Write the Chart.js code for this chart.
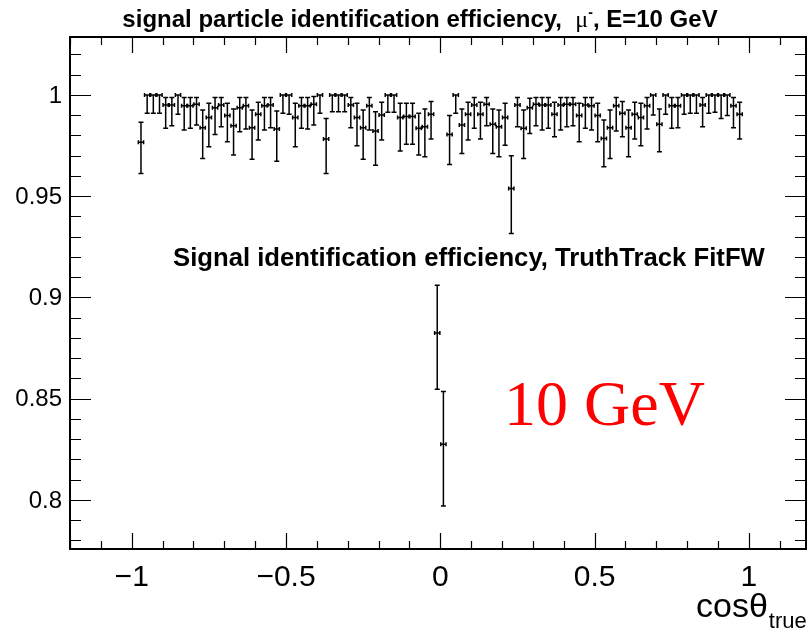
<!DOCTYPE html>
<html>
<head>
<meta charset="utf-8">
<script src="https://cdn.jsdelivr.net/npm/chart.js@4"></script>
<style>
  html, body { margin: 0; padding: 0; background: #fff; }
  #wrap { width: 809px; height: 631px; }
</style>
</head>
<body>
<div id="wrap"><canvas id="chartEff" width="809" height="631"></canvas></div>
<script>
// ── Data ──────────────────────────────────────────────────
const binX = [
  -0.97, -0.95, -0.93, -0.91, -0.89, -0.87, -0.85, -0.83, -0.81, -0.79,
  -0.77, -0.75, -0.73, -0.71, -0.69, -0.67, -0.65, -0.63, -0.61, -0.59,
  -0.57, -0.55, -0.53, -0.51, -0.49, -0.47, -0.45, -0.43, -0.41, -0.39,
  -0.37, -0.35, -0.33, -0.31, -0.29, -0.27, -0.25, -0.23, -0.21, -0.19,
  -0.17, -0.15, -0.13, -0.11, -0.09, -0.07, -0.05, -0.03, -0.01, 0.01,
  0.03, 0.05, 0.07, 0.09, 0.11, 0.13, 0.15, 0.17, 0.19, 0.21,
  0.23, 0.25, 0.27, 0.29, 0.31, 0.33, 0.35, 0.37, 0.39, 0.41,
  0.43, 0.45, 0.47, 0.49, 0.51, 0.53, 0.55, 0.57, 0.59, 0.61,
  0.63, 0.65, 0.67, 0.69, 0.71, 0.73, 0.75, 0.77, 0.79, 0.81,
  0.83, 0.85, 0.87, 0.89, 0.91, 0.93, 0.95, 0.97
];
const eff = [
  0.9766, 1, 1, 1, 0.9950, 0.9950, 1, 0.9947, 0.9947, 0.9954,
  0.9838, 0.9888, 0.9937, 0.9950, 0.9898, 0.9848, 0.9937, 0.9947, 0.9838, 0.9904,
  0.9947, 0.9950, 0.9832, 1, 1, 0.9888, 0.9947, 0.9947, 0.9954, 1,
  0.9782, 1, 1, 1, 0.9950, 0.9889, 0.9838, 0.9947, 0.9822, 0.9901,
  1, 1, 0.9888, 0.9893, 0.9893, 0.9835, 0.9843, 0.9904, 0.8825, 0.8275,
  0.9805, 1, 0.9851, 0.9904, 0.9950, 0.9904, 0.9954, 0.9855, 0.9843, 0.9889,
  0.9538, 0.9950, 0.9835, 0.9937, 0.9954, 0.9950, 0.9950, 0.9904, 0.9950, 0.9954,
  0.9954, 0.9898, 0.9950, 0.9947, 0.9898, 0.9785, 0.9838, 0.9947, 0.9909, 0.9838,
  0.9904, 0.9889, 0.9947, 1, 0.9855, 1, 0.9947, 0.9947, 1, 1,
  1, 0.9950, 1, 1, 1, 1, 0.9947, 0.9904
];
const errLow = [
  0.0154, 0.0091, 0.0091, 0.0091, 0.0115, 0.0102, 0.0096, 0.0120, 0.0112, 0.0103,
  0.0152, 0.0144, 0.0132, 0.0107, 0.0129, 0.0145, 0.0119, 0.0115, 0.0155, 0.0127,
  0.0120, 0.0112, 0.0159, 0.0091, 0.0096, 0.0144, 0.0112, 0.0115, 0.0103, 0.0091,
  0.0170, 0.0083, 0.0083, 0.0083, 0.0112, 0.0140, 0.0155, 0.0120, 0.0169, 0.0124,
  0.0086, 0.0086, 0.0165, 0.0137, 0.0137, 0.0132, 0.0148, 0.0122, 0.0278, 0.0305,
  0.0148, 0.0091, 0.0140, 0.0127, 0.0115, 0.0122, 0.0106, 0.0144, 0.0148, 0.0137,
  0.0222, 0.0107, 0.0149, 0.0127, 0.0106, 0.0123, 0.0115, 0.0110, 0.0123, 0.0111,
  0.0106, 0.0129, 0.0115, 0.0120, 0.0129, 0.0140, 0.0152, 0.0125, 0.0115, 0.0143,
  0.0122, 0.0140, 0.0115, 0.0099, 0.0136, 0.0096, 0.0112, 0.0109, 0.0096, 0.0091,
  0.0091, 0.0107, 0.0091, 0.0086, 0.0116, 0.0102, 0.0109, 0.0122
];
const errHigh = [
  0.0099, 0, 0, 0, 0.0037, 0.0037, 0, 0.0040, 0.0040, 0.0033,
  0.0088, 0.0071, 0.0050, 0.0037, 0.0061, 0.0083, 0.0050, 0.0040, 0.0088, 0.0060,
  0.0040, 0.0037, 0.0089, 0, 0, 0.0071, 0.0040, 0.0040, 0.0038, 0,
  0.0102, 0, 0, 0, 0.0037, 0.0070, 0.0088, 0.0040, 0.0095, 0.0063,
  0, 0, 0.0071, 0.0066, 0.0066, 0.0074, 0.0088, 0.0063, 0.0235, 0.0261,
  0.0093, 0, 0.0080, 0.0060, 0.0037, 0.0060, 0.0033, 0.0076, 0.0083, 0.0070,
  0.0162, 0.0037, 0.0091, 0.0047, 0.0033, 0.0037, 0.0037, 0.0060, 0.0037, 0.0033,
  0.0033, 0.0061, 0.0037, 0.0040, 0.0061, 0.0091, 0.0088, 0.0040, 0.0058, 0.0088,
  0.0060, 0.0070, 0.0040, 0, 0.0076, 0, 0.0040, 0.0040, 0, 0,
  0, 0.0037, 0, 0, 0, 0, 0.0040, 0.0060
];
const binHalf = 0.0085;

const xTicks = [-1, -0.5, 0, 0.5, 1];
const xTickLabels = ['\u22121', '\u22120.5', '0', '0.5', '1'];
const yTicks = [0.8, 0.85, 0.9, 0.95, 1];
const yTickLabels = ['0.8', '0.85', '0.9', '0.95', '1'];

const titleText = 'signal particle identification efficiency,  ';
const titleTail = ', E=10 GeV';
const insideText = 'Signal identification efficiency, TruthTrack FitFW';
const energyText = '10 GeV';

// ── ROOT-ish frame, ticks, labels and error bars ──────────
const rootStyle = {
    id: 'rootStyle',
    afterDatasetsDraw(chart) {
        const { ctx, scales: { x, y } } = chart;
        ctx.save();
        ctx.strokeStyle = '#000';
        ctx.lineWidth = 1.5;
        for (let i = 0; i < eff.length; i++) {
            const px = x.getPixelForValue(binX[i]);
            const py = y.getPixelForValue(eff[i]);
            const top = y.getPixelForValue(eff[i] + errHigh[i]);
            const bot = y.getPixelForValue(eff[i] - errLow[i]);
            const xl = x.getPixelForValue(binX[i] - binHalf);
            const xr = x.getPixelForValue(binX[i] + binHalf);
            ctx.beginPath();
            ctx.moveTo(px, top); ctx.lineTo(px, bot);
            ctx.moveTo(px - 2.5, top); ctx.lineTo(px + 2.5, top);
            ctx.moveTo(px - 2.5, bot); ctx.lineTo(px + 2.5, bot);
            ctx.moveTo(xl, py); ctx.lineTo(xr, py);
            ctx.moveTo(xl, py - 2); ctx.lineTo(xl, py + 2);
            ctx.moveTo(xr, py - 2); ctx.lineTo(xr, py + 2);
            ctx.stroke();
        }
        ctx.restore();
    },
    afterDraw(chart) {
        const { ctx, chartArea: a, scales: { x, y } } = chart;
        ctx.save();
        ctx.strokeStyle = '#000';
        ctx.fillStyle = '#000';

        // frame
        ctx.lineWidth = 2;
        ctx.strokeRect(a.left, a.top, a.right - a.left, a.bottom - a.top);

        // x ticks (major 0.5, minor 0.1), bottom and top
        ctx.lineWidth = 1.2;
        ctx.beginPath();
        for (let k = -12; k <= 12; k++) {
            const v = k / 10;
            if (v < x.min || v > x.max) continue;
            const px = Math.round(x.getPixelForValue(v)) + 0.5;
            const len = (k % 5 === 0) ? 16 : 8;
            ctx.moveTo(px, a.bottom); ctx.lineTo(px, a.bottom - len);
            ctx.moveTo(px, a.top); ctx.lineTo(px, a.top + len);
        }
        // y ticks (major 0.05, minor 0.01), left and right
        for (let k = 77; k <= 103; k++) {
            const v = k / 100;
            if (v < y.min || v > y.max) continue;
            const py = Math.round(y.getPixelForValue(v)) + 0.5;
            const len = (k % 5 === 0) ? 21 : 11;
            ctx.moveTo(a.left, py); ctx.lineTo(a.left + len, py);
            ctx.moveTo(a.right, py); ctx.lineTo(a.right - len, py);
        }
        ctx.stroke();

        // tick labels
        ctx.font = "30px 'Liberation Sans', Arial, sans-serif";
        ctx.textAlign = 'center';
        ctx.textBaseline = 'middle';
        xTicks.forEach((v, i) => ctx.fillText(xTickLabels[i], x.getPixelForValue(v), 578));
        ctx.font = "24px 'Liberation Sans', Arial, sans-serif";
        ctx.textAlign = 'right';
        yTicks.forEach((v, i) => ctx.fillText(yTickLabels[i], 62, y.getPixelForValue(v) + 1));

        // axis title cosθ_true
        ctx.textAlign = 'left';
        ctx.textBaseline = 'alphabetic';
        ctx.font = "34px 'Liberation Sans', Arial, sans-serif";
        ctx.fillText('cos\u03b8', 696, 617);
        const wCos = ctx.measureText('cos\u03b8').width;
        ctx.font = "22px 'Liberation Sans', Arial, sans-serif";
        ctx.fillText('true', 697 + wCos, 628);

        // title with mu^-
        const fBold = "bold 24px 'Liberation Sans', Arial, sans-serif";
        const fMu = "24px 'Liberation Serif', 'DejaVu Serif', serif";
        const fSup = "bold 14px 'Liberation Sans', Arial, sans-serif";
        ctx.font = fBold;
        const w1 = ctx.measureText(titleText).width;
        const w4 = ctx.measureText(titleTail).width;
        ctx.font = fMu;
        const w2 = ctx.measureText('\u03bc').width;
        ctx.font = fSup;
        const w3 = ctx.measureText('-').width;
        let tx = 420 - (w1 + w2 + w3 + w4) / 2;
        const ty = 27;
        ctx.font = fBold; ctx.fillText(titleText, tx, ty); tx += w1;
        ctx.font = fMu; ctx.fillText('\u03bc', tx, ty); tx += w2;
        ctx.font = fSup; ctx.fillText('-', tx, ty - 10); tx += w3;
        ctx.font = fBold; ctx.fillText(titleTail, tx, ty);

        // text inside the frame
        ctx.font = "bold 25.7px 'Liberation Sans', Arial, sans-serif";
        ctx.fillText(insideText, 173, 266);
        ctx.fillStyle = '#ff0000';
        ctx.font = "64px 'Liberation Serif', 'Times New Roman', serif";
        ctx.fillText(energyText, 504, 425);
        ctx.restore();
    }
};

const ctx1 = document.getElementById('chartEff');
new Chart(ctx1, {
    type: 'scatter',
    data: {
        datasets: [{
            label: 'efficiency',
            data: binX.map((v, i) => ({ x: v, y: eff[i] })),
            pointRadius: 0,
            showLine: false
        }]
    },
    options: {
        responsive: false,
        animation: false,
        events: [],
        layout: { padding: { left: 70, right: 3, top: 37, bottom: 82 } },
        plugins: { legend: { display: false }, tooltip: { enabled: false } },
        scales: {
            x: { type: 'linear', min: -1.2, max: 1.185, display: false },
            y: { type: 'linear', min: 0.7758, max: 1.0286, display: false }
        }
    },
    plugins: [rootStyle]
});
</script>
</body>
</html>
